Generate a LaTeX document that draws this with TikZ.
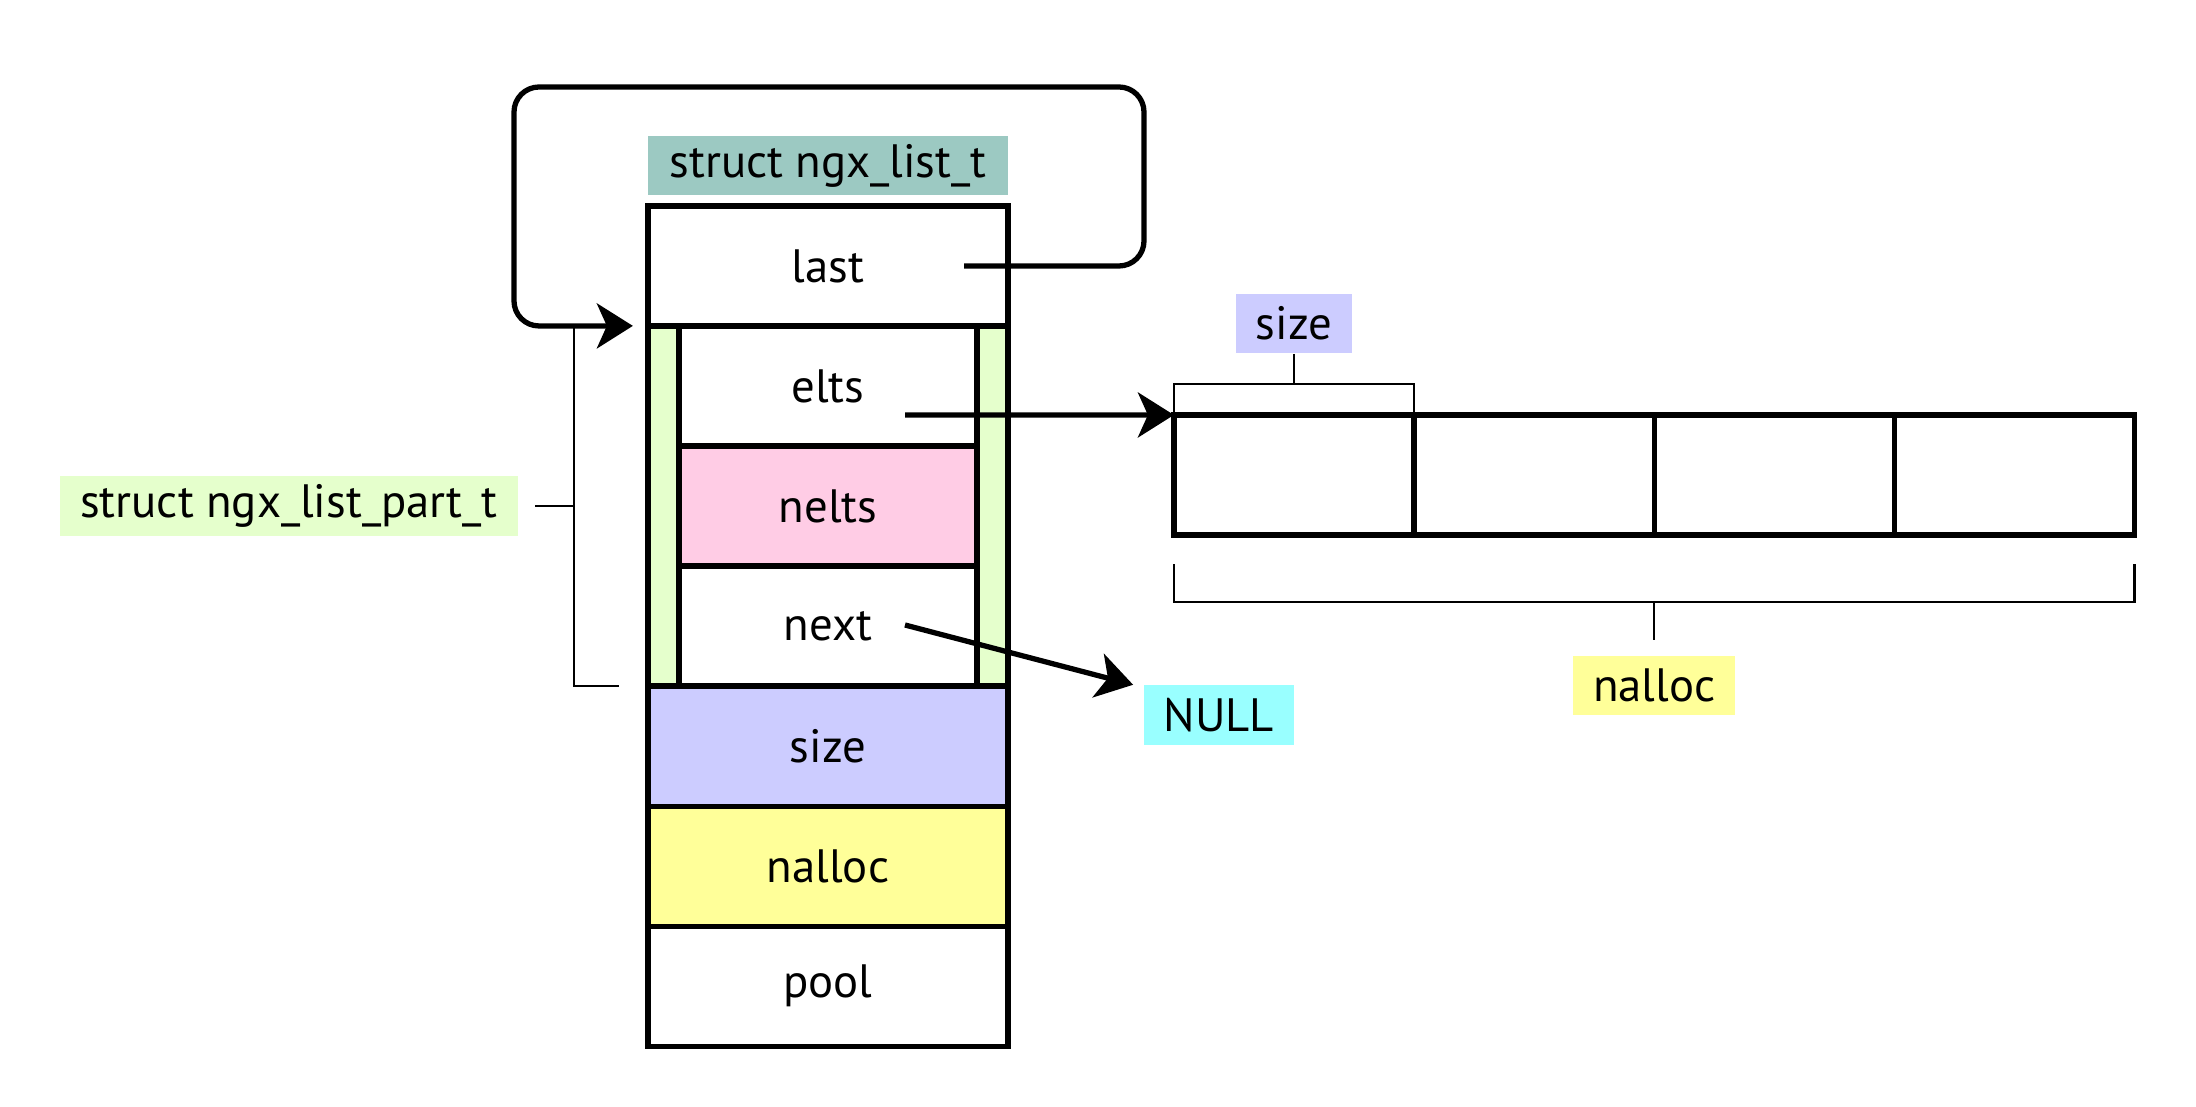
\documentclass[tikz,border=0pt]{standalone}
\usepackage{fontspec}
\setmainfont{PT Sans}
\usetikzlibrary{positioning,arrows.meta}
\definecolor{listteal}{HTML}{9CC9C2}
\definecolor{partgreen}{HTML}{E5FFCC}
\definecolor{neltspink}{HTML}{FFCCE5}
\definecolor{sizeblue}{HTML}{CCCCFF}
\definecolor{allocyellow}{HTML}{FFFF99}
\definecolor{nullcyan}{HTML}{99FFFF}
\tikzstyle{field} = [draw=black, line width=1.5pt, rectangle,
minimum width=3.6cm, minimum height=1.2cm, inner sep=0pt, outer sep=0pt]
\tikzstyle{partfield} = [field, fill=white, minimum width=2.98cm]
\tikzstyle{cell} = [field, minimum width=2.4cm]
\tikzstyle{tag} = [rectangle, inner xsep=0.2cm, inner ysep=0pt, minimum height=0.59cm]
\tikzstyle{ptr} = [line width=1.5pt, -{Stealth[length=0.36cm, width=0.45cm, inset=0.1cm]}]
\tikzstyle{brace} = [line width=0.6pt]

\begin{document}
\begin{tikzpicture}[x=0.01cm, y=-0.01cm, font=\fontsize{13.3}{16}\selectfont]
		\useasboundingbox (0,0) rectangle (2196,1107);
		%\fill[white] (0,0) rectangle (2196,1107);
		\node [field, fill=partgreen, minimum height=3.6cm] (part) at (828,506) {};
		\node [field] (last) at (828,266) {last};
		\node [partfield] (elts) at (828,386) {elts};
		\node [partfield, fill=neltspink, below=0pt of elts] (nelts) {nelts};
		\node [partfield, below=0pt of nelts] (next) {next};
		\node [field, fill=sizeblue, below=0pt of part] (size) {size};
		\node [field, fill=allocyellow, below=0pt of size] (nalloc) {nalloc};
		\node [field, below=0pt of nalloc] (pool) {pool};
		
		\node [tag, fill=listteal, minimum width=3.6cm, above=0.1cm of last] (listlab) {struct ngx\_list\_t};
		\node [tag, fill=partgreen] (partlab) at (289,506) {struct ngx\_list\_part\_t};
		
		% elements
		\node [cell] (a1) at (1294,475) {};
		\node [cell, right=0pt of a1] (a2) {};
		\node [cell, right=0pt of a2] (a3) {};
		\node [cell, right=0pt of a3] (a4) {};
		\node [tag, fill=sizeblue, above=0.61cm of a1] (sizelab) {size};
		\node [tag, fill=allocyellow, below=1.2cm of a2.south east] (alloclab) {nalloc};
		\node [tag, fill=nullcyan] (nulllab) at (1219,715) {NULL};
		
		\coordinate (lastp) at (964,266);
		\coordinate (eltsp) at (905,415);
		\coordinate (nextp) at (905,625);
		
		\draw [ptr, rounded corners=0.25cm] (lastp) -| (1144,87) -| (514,326) -- ([xshift=-0.15cm]part.north west);
		\draw [brace] ([xshift=-0.29cm]part.south west) -| ([xshift=-0.74cm]part.north west);
		\draw [brace] ([xshift=0.17cm]partlab.east) -- ([xshift=-0.74cm]part.west);
		
		\draw [ptr] (eltsp) -- (a1.north west);
		\draw [ptr] (nextp) -- ([xshift=-0.1cm]nulllab.north west);
		
		\draw [brace] (a1.north west) -- ++(0,0.31cm) -| (a1.north east);
		\draw [brace] (sizelab.south) -- ++(0,-0.29cm);
		\draw [brace] ([yshift=-0.29cm]a1.south west) -- ++(0,-0.38cm) -| ([yshift=-0.29cm]a4.south east);
		\draw [brace] ([yshift=-0.67cm]a2.south east) -- ([yshift=0.15cm]alloclab.north);
\end{tikzpicture}
\end{document}
